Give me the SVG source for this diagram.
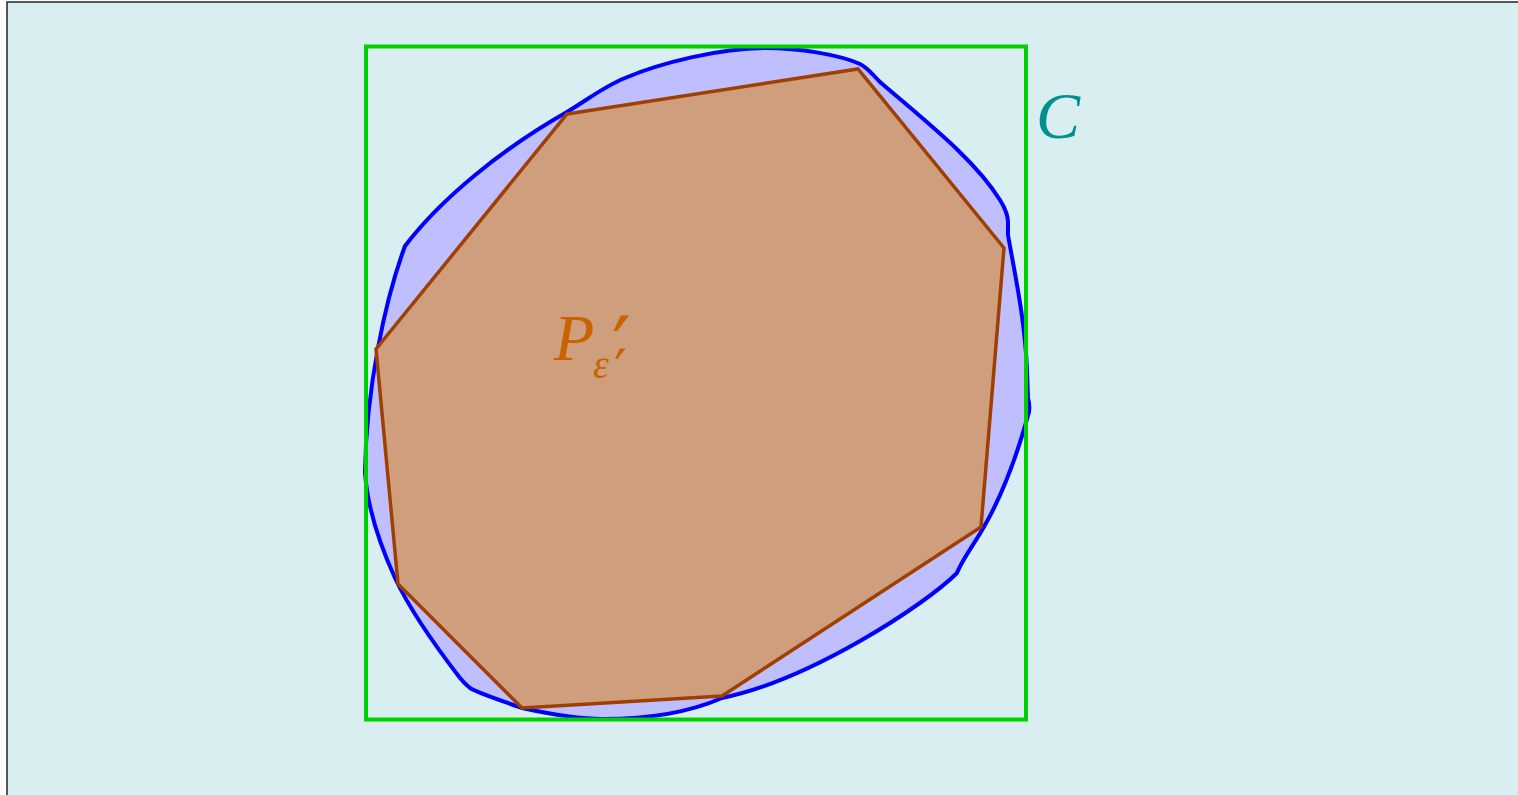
<svg xmlns="http://www.w3.org/2000/svg" width="1518" height="795" viewBox="0 0 1518 795">
<style>
.lbl{font-family:"Liberation Serif","DejaVu Serif",serif;font-style:italic}
.pr{font-family:"DejaVu Serif",serif;font-style:normal}
</style>
<rect x="0" y="0" width="1518" height="795" fill="#ffffff"/>
<rect x="7" y="2" width="1515" height="800" fill="#d9eef0" stroke="#222" stroke-width="1.5"/>
<g id="convex-set">
<path d="M365,472 C366,390 385,300 405,246 C440,200 500,150 567,112 C590,98 605,86 625,78 C660,63 720,48 765,48 C800,48 840,55 860,64 C868,68 872,74 880,82 C930,125 975,160 1000,200 Q1008,213 1008,222 L1008,235 C1015,275 1025,320 1027,370 L1028,398 Q1030,405 1029,412 C1020,445 1005,490 985,525 C975,543 962,560 957,573 C925,605 810,680 722,698 C690,712 650,719 603,719 C575,719 545,713 522,708 C500,700 480,694 470,688 Q465,684 460,678 C440,652 410,610 395,578 C380,545 367,505 365,472 Z" fill="#bfbfff" stroke="#0000ff" stroke-width="4" stroke-linejoin="round"/>
</g>
<g id="polygon">
<polygon points="567,114 858,69 1004,248 981,527 722,696 522,708 398,584 376,349" fill="#cf9e7d" stroke="#a04000" stroke-width="3.5" stroke-linejoin="miter"/>
</g>
<g id="box">
<rect x="366" y="46.5" width="660" height="673" fill="none" stroke="#00d000" stroke-width="4"/>
</g>
<g id="labels">
<text class="lbl" font-size="66" fill="#c86400"><tspan x="554" y="360">P</tspan><tspan class="pr" x="612" y="377" font-size="84">′</tspan><tspan x="593" y="378" font-size="40">ε</tspan><tspan class="pr" x="614" y="391" font-size="57">′</tspan></text>
<text class="lbl" x="1036" y="138" font-size="66" fill="#009090">C</text>
</g>
</svg>
